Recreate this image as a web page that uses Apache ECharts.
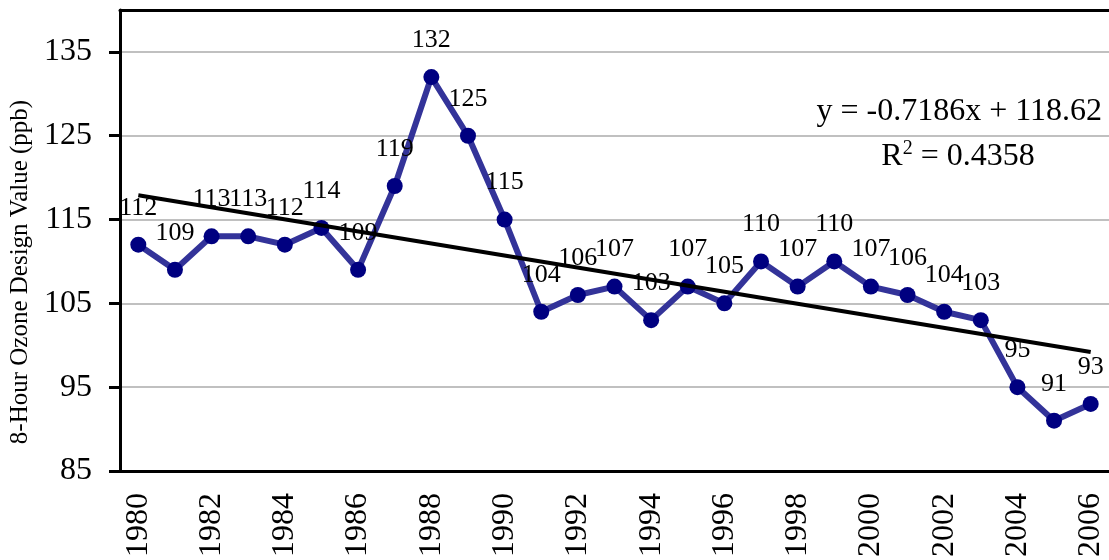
<!DOCTYPE html>
<html>
<head>
<meta charset="utf-8">
<script src="https://cdn.jsdelivr.net/npm/echarts@6/dist/echarts.min.js"></script>
<style>
	html, body { margin: 0; padding: 0; background: #fff; }
	#chart { width: 1109px; height: 560px; }
</style>
</head>
<body>
<div id="chart"></div>
<script>
	// years on the x axis
	var years = ['1980', '1981', '1982', '1983', '1984', '1985', '1986', '1987', '1988', '1989',
		'1990', '1991', '1992', '1993', '1994', '1995', '1996', '1997', '1998', '1999',
		'2000', '2001', '2002', '2003', '2004', '2005', '2006'];
	// 8-hour ozone design values (ppb)
	var ozone = [112, 109, 113, 113, 112, 114, 109, 119, 132, 125,
		115, 104, 106, 107, 103, 107, 105, 110, 107, 110,
		107, 106, 104, 103, 95, 91, 93];
	// linear trend end points
	var trendYears = ['1980', '2006'];
	var trendValues = [117.9, 99.2];
	var equationText = 'y = -0.7186x + 118.62';
	var r2Text = '0.4358';

	var font = 'Liberation Serif, Times New Roman, serif';
	var chart = echarts.init(document.getElementById('chart'));

	var option = {
		animation: false,
		grid: {
			left: 120,
			top: 10,
			width: 995,
			height: 462
		},
		xAxis: [{
			type: 'category',
			data: years,
			boundaryGap: true,
			axisLine: { lineStyle: { color: '#000', width: 3 } },
			axisTick: { length: 11, lineStyle: { color: '#000', width: 3 } },
			axisLabel: {
				interval: 1,
				rotate: 90,
				margin: 22,
				color: '#000',
				fontFamily: font,
				fontSize: 32
			},
			splitLine: { show: false }
		}, {
			// top frame line only
			type: 'category',
			data: years,
			position: 'top',
			axisLine: { lineStyle: { color: '#000', width: 3 } },
			axisTick: { show: false },
			axisLabel: { show: false },
			splitLine: { show: false }
		}],
		yAxis: {
			type: 'value',
			min: 85,
			max: 140,
			interval: 10,
			axisLine: { show: true, lineStyle: { color: '#000', width: 3 } },
			axisTick: { show: true, length: 11, lineStyle: { color: '#000', width: 3 } },
			axisLabel: {
				showMaxLabel: false,
				margin: 28,
				color: '#000',
				fontFamily: font,
				fontSize: 32
			},
			splitLine: { lineStyle: { color: '#c0c0c0', width: 2 } }
		},
		graphic: [
			{
				type: 'text',
				x: 20,
				y: 272,
				rotation: Math.PI / 2,
				style: {
					text: '8-Hour Ozone Design Value (ppb)',
					fill: '#000',
					font: '25px ' + font,
					align: 'center',
					verticalAlign: 'middle'
				}
			},
			{
				type: 'text',
				x: 1102,
				y: 112,
				style: {
					text: equationText,
					fill: '#000',
					font: '32px ' + font,
					align: 'right',
					verticalAlign: 'middle'
				}
			},
			{
				type: 'text',
				x: 958,
				y: 157,
				style: {
					text: '{a|R}{s|2}{a| = ' + r2Text + '}',
					align: 'center',
					verticalAlign: 'middle',
					rich: {
						a: { fill: '#000', fontFamily: font, fontSize: 32, lineHeight: 36 },
						s: { fill: '#000', fontFamily: font, fontSize: 20, verticalAlign: 'top', lineHeight: 20, padding: [0, 0, 22, 0] }
					}
				}
			}
		],
		series: [
			{
				name: 'Ozone',
				type: 'line',
				data: ozone,
				symbol: 'circle',
				symbolSize: 16,
				lineStyle: { color: '#333399', width: 6 },
				itemStyle: { color: '#000080' },
				label: {
					show: true,
					position: 'top',
					distance: 16,
					color: '#000',
					fontFamily: font,
					fontSize: 26
				},
				z: 2
			},
			{
				name: 'Trend',
				type: 'line',
				data: trendYears.map(function (y, i) { return [y, trendValues[i]]; }),
				symbol: 'none',
				lineStyle: { color: '#000', width: 4 },
				z: 3
			}
		]
	};
	chart.setOption(option);
</script>
</body>
</html>
